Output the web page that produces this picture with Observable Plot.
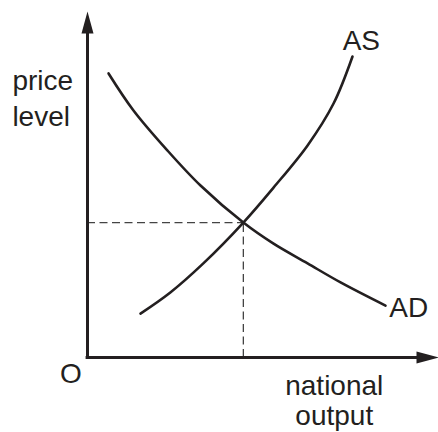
<!DOCTYPE html>
<html>
<head>
<meta charset="utf-8">
<script src="https://cdn.jsdelivr.net/npm/d3@7"></script>
<script src="https://cdn.jsdelivr.net/npm/@observablehq/plot@0.6"></script>
<style>
  html, body { margin: 0; padding: 0; background: #fff; }
  #chart svg { display: block; }
</style>
</head>
<body>
<div id="chart"></div>
<script>
// Aggregate demand curve (national output, price level)
const adOutput = [0.60, 1.31, 2.28, 3.22, 4.44, 5.30, 6.27, 7.21, 8.49];
const adPrice  = [8.21, 7.14, 5.98, 4.97, 3.90, 3.29, 2.72, 2.17, 1.50];
// Aggregate supply curve
const asOutput = [1.51, 2.36, 3.30, 4.44, 5.30, 6.27, 7.01, 7.55];
const asPrice  = [1.27, 1.88, 2.72, 3.90, 4.91, 6.13, 7.34, 8.70];
// Equilibrium
const eqOutput = 4.44;
const eqPrice = 3.90;
// Axis extents
const axisMax = 10;

const AD = adOutput.map((x, i) => ({x, y: adPrice[i]}));
const AS = asOutput.map((x, i) => ({x, y: asPrice[i]}));

const ink = "#231f20";
const font = "Liberation Sans, Arial, Helvetica, sans-serif";

// Filled, narrow arrowhead with the tip at the anchor point (pointing up before rotation)
const arrowHead = {
  draw(context) {
    context.moveTo(0, 0);
    context.lineTo(-6, 22);
    context.lineTo(6, 22);
    context.closePath();
  }
};

const startLabels = [
  {x: -2.14, y: 7.72, text: "price"},
  {x: -2.14, y: 6.68, text: "level"},
  {x: 7.27, y: 8.90, text: "AS"},
  {x: 8.60, y: 1.16, text: "AD"},
  {x: -0.78, y: -0.75, text: "O"}
];
const middleLabels = [
  {x: 7.03, y: -1.08, text: "national"},
  {x: 7.03, y: -1.96, text: "output"}
];

const chart = Plot.plot({
  width: 438,
  height: 432,
  marginLeft: 87,
  marginRight: 0,
  marginTop: 11,
  marginBottom: 75,
  x: {domain: [0, axisMax], axis: null},
  y: {domain: [0, axisMax], axis: null},
  style: {fontFamily: font, background: "#fff", overflow: "visible"},
  marks: [
    // dashed guides to the equilibrium
    Plot.ruleY([eqPrice], {x1: 0, x2: eqOutput, stroke: "#444", strokeWidth: 1.3, strokeDasharray: "8,4.5"}),
    Plot.ruleX([eqOutput], {y1: 0, y2: eqPrice, stroke: "#444", strokeWidth: 1.3, strokeDasharray: "8,4.5"}),
    // axes
    Plot.ruleX([0], {y1: 0, y2: axisMax - 0.4, stroke: ink, strokeWidth: 3}),
    Plot.ruleY([0], {x1: -0.04, x2: axisMax - 0.4, stroke: ink, strokeWidth: 3}),
    Plot.dot([{x: 0, y: axisMax}], {x: "x", y: "y", symbol: arrowHead, fill: ink, stroke: "none", r: 5}),
    Plot.dot([{x: axisMax, y: 0}], {x: "x", y: "y", symbol: arrowHead, fill: ink, stroke: "none", r: 5, rotate: 90}),
    // curves
    Plot.line(AD, {x: "x", y: "y", curve: "catmull-rom", stroke: ink, strokeWidth: 2.6}),
    Plot.line(AS, {x: "x", y: "y", curve: "catmull-rom", stroke: ink, strokeWidth: 2.6}),
    // labels
    Plot.text(startLabels, {x: "x", y: "y", text: "text", textAnchor: "start", lineAnchor: "bottom", fontSize: 28, fill: ink}),
    Plot.text(middleLabels, {x: "x", y: "y", text: "text", textAnchor: "middle", lineAnchor: "bottom", fontSize: 28, fill: ink})
  ]
});
document.getElementById("chart").appendChild(chart);
</script>
</body>
</html>
